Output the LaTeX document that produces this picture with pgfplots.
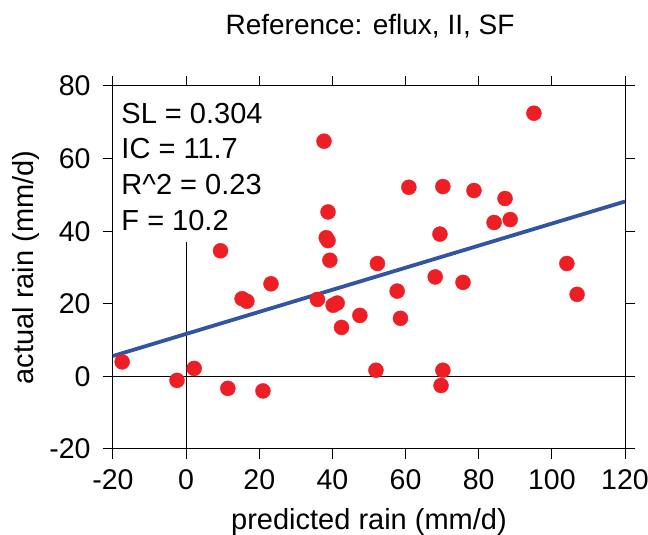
\documentclass[border=0pt]{standalone}
\usepackage{pgfplots}
\pgfplotsset{compat=1.18}
\usepackage{fontspec}
\setmainfont{Liberation Sans}
\definecolor{dotred}{RGB}{237,30,36}
\definecolor{lineblue}{RGB}{50,84,165}
\begin{document}
\begin{tikzpicture}
\useasboundingbox (-113pt,-86pt) rectangle (535pt,449pt);
\begin{axis}[
 at={(0,0)}, anchor=south west,
 width=512pt, height=363pt, scale only axis,
 xmin=-20, xmax=120, ymin=-20, ymax=80,
 xtick={-20,0,...,120}, ytick={-20,0,...,80},
 tick align=outside, major tick length=10pt,
 minor tick num=0,
 axis line style={line width=1pt},
 every tick/.style={black, line width=1pt},
 tick label style={font=\fontsize{28.5}{34}\selectfont},
 /pgf/number format/assume math mode=true,
 xticklabel style={yshift=-7pt},
 yticklabel style={xshift=-9pt},
 xlabel={predicted rain (mm/d)},
 ylabel={actual rain (mm/d)},
 every axis x label/.style={at={(axis description cs:0.5,-0.2204)}, anchor=base, font=\fontsize{29}{34}\selectfont},
 every axis y label/.style={at={(axis description cs:-0.1543,0.5)}, rotate=90, anchor=base, font=\fontsize{29}{34}\selectfont},
 title={Reference: eflux, II, SF},
 every axis title/.style={at={(axis description cs:0.502,1.1405)}, anchor=base, font=\fontsize{28}{34}\selectfont},
 clip=false,
]
\draw[black, line width=1pt] (axis cs:-20,0) -- (axis cs:120,0);
\draw[black, line width=1pt] (axis cs:0,-20) -- (axis cs:0,36.9);
\addplot[lineblue, line width=3.8pt, no marks] coordinates {(-20,5.62) (120,48.18)};
\addplot[only marks, mark=*, mark size=7.5pt, color=dotred, mark options={draw=dotred, fill=dotred}] coordinates {
(-17.5,4.0) (-2.5,-1.1) (2.2,2.2) (11.4,-3.3) (21.0,-4.0)
(9.4,34.6) (15.3,21.4) (16.6,20.7) (23.2,25.5) (35.9,21.2)
(37.7,64.8) (38.8,45.3) (38.3,38.2) (38.8,37.4) (39.3,32.0)
(40.2,19.6) (41.3,20.2) (42.5,13.5) (47.5,16.8) (52.3,31.1)
(51.9,1.7) (57.7,23.5) (58.6,16.0) (60.9,52.1) (68.1,27.4)
(69.4,39.2) (70.2,52.3) (70.2,1.7) (69.7,-2.5) (75.7,25.9)
(78.7,51.2) (84.2,42.4) (87.2,49.0) (88.6,43.2) (95.1,72.5)
(104.1,31.1) (106.9,22.6)
};
\node[anchor=base west, inner sep=0, font=\fontsize{29}{34}\selectfont] at (axis cs:-17.73,69.8) {SL = 0.304};
\node[anchor=base west, inner sep=0, font=\fontsize{29}{34}\selectfont] at (axis cs:-17.73,60.0) {IC = 11.7};
\node[anchor=base west, inner sep=0, font=\fontsize{29}{34}\selectfont] at (axis cs:-17.73,50.1) {R\textasciicircum{}2 = 0.23};
\node[anchor=base west, inner sep=0, font=\fontsize{29}{34}\selectfont] at (axis cs:-17.73,40.2) {F = 10.2};
\end{axis}
\end{tikzpicture}
\end{document}
